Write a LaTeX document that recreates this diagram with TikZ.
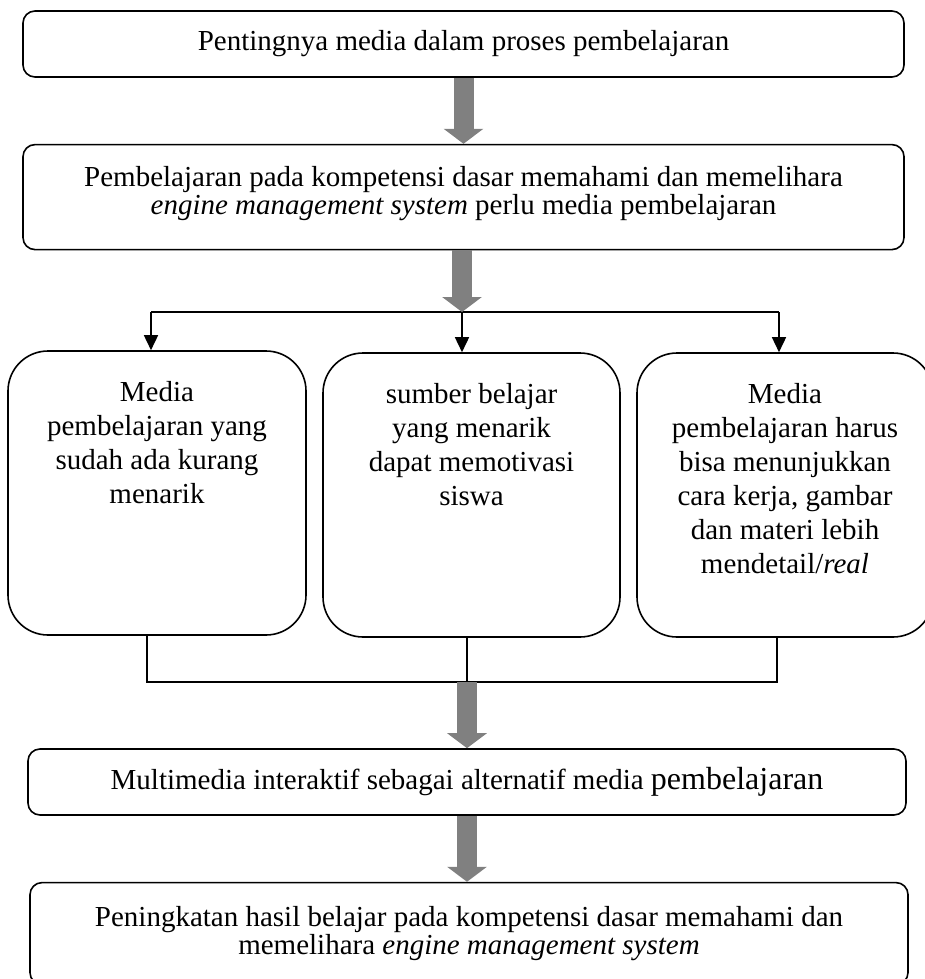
\documentclass[tikz,border=0pt]{standalone}
\usepackage{fontspec}
\setmainfont{Liberation Serif}
\usetikzlibrary{positioning,arrows.meta}

\newcommand{\isikotak}[1]{\parbox[c][284pt][t]{280pt}{\centering\fontsize{29}{34}\selectfont\vspace*{30pt}#1}}

\begin{document}
\begin{tikzpicture}[x=1pt, y=-1pt,
    kotak/.style={draw, line width=1.6pt, rounded corners=12pt, inner sep=0pt, align=center, font=\fontsize{29}{28}\selectfont},
    kotaktinggi/.style={draw, line width=1.6pt, rounded corners=40pt, inner sep=0pt},
    panahabu/.style={draw=gray, line width=20pt, -{Triangle[width=39pt, length=15pt]}},
    panah/.style={line width=1.6pt, -{Triangle[width=14pt, length=15pt]}},
    garis/.style={line width=1.6pt}]
    \useasboundingbox (0,0) rectangle (925,979);

    \node[kotak, minimum width=881pt, minimum height=66pt] (penting) at (463.5,44) {Pentingnya media dalam proses pembelajaran};
    \node[kotak, minimum width=881pt, minimum height=105pt, text depth=14pt, below = 66pt of penting] (kompetensi) {Pembelajaran pada kompetensi dasar memahami dan memelihara\\ \textit{engine management system} perlu media pembelajaran};

    \node[kotaktinggi, minimum width=298pt] (sudah) at (157,493) {\isikotak{Media\\ pembelajaran yang\\ sudah ada kurang\\ menarik}};
    \node[kotaktinggi, minimum width=297pt] (sumber) at (471.5,495) {\isikotak{sumber belajar\\ yang menarik\\ dapat memotivasi\\ siswa}};
    \node[kotaktinggi, minimum width=296pt] (harus) at (785,495) {\isikotak{Media\\ pembelajaran harus\\ bisa menunjukkan\\ cara kerja, gambar\\ dan materi lebih\\ mendetail/\textit{real}}};

    \node[kotak, minimum width=878pt, minimum height=66pt] (multimedia) at (467,782) {Multimedia interaktif sebagai alternatif media {\fontsize{32}{28}\selectfont pembelajaran}};
    \node[kotak, minimum width=878pt, minimum height=102pt, below = 66pt of multimedia, xshift=2pt] (peningkatan) {Peningkatan hasil belajar pada kompetensi dasar memahami dan\\ memelihara \textit{engine management system}};

    \coordinate (cabang) at (462,312);
    \coordinate (cabangkiri) at (151,312);
    \coordinate (cabangkanan) at (779,312);
    \coordinate (gabung) at (467,682);
    \coordinate (gabungkiri) at (147,682);
    \coordinate (gabungkanan) at (777,682);

    \draw[panahabu] (penting) -- (kompetensi);
    \draw[garis] (cabangkiri) -- (cabangkanan);
    \draw[panahabu] (kompetensi.south -| cabang) -- (cabang);
    \draw[panah] (cabangkiri) -- (cabangkiri |- sudah.north);
    \draw[panah] (cabang) -- (cabang |- sumber.north);
    \draw[panah] (cabangkanan) -- (cabangkanan |- harus.north);

    \draw[garis] (gabungkiri |- sudah.south) -- (gabungkiri) -- (gabungkanan) -- (gabungkanan |- harus.south);
    \draw[garis] (gabung |- sumber.south) -- (gabung);
    \draw[panahabu] (gabung) -- (gabung |- multimedia.north);
    \draw[panahabu] (multimedia) -- (multimedia |- peningkatan.north);
  \end{tikzpicture}
\end{document}
